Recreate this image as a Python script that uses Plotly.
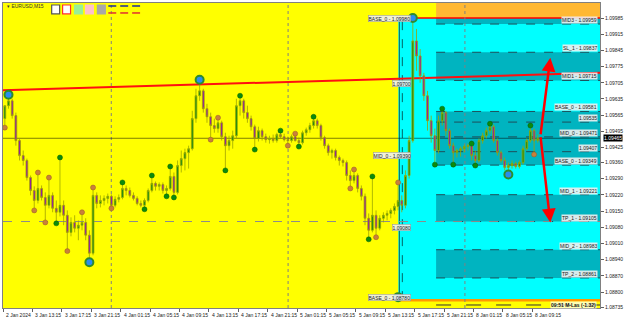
import plotly.graph_objects as go

# ---------------- data ----------------
symbol = "EURUSD,M15"
tick_labels = ["2 Jan 2024", "3 Jan 13:15", "3 Jan 17:15", "3 Jan 21:15", "4 Jan 01:15",
               "4 Jan 05:15", "4 Jan 09:15", "4 Jan 13:15", "4 Jan 17:15", "4 Jan 21:15",
               "5 Jan 01:15", "5 Jan 05:15", "5 Jan 09:15", "5 Jan 13:15", "5 Jan 17:15",
               "5 Jan 21:15", "8 Jan 01:15", "8 Jan 05:15", "8 Jan 09:15"]
price_ticks = [1.09985, 1.09915, 1.09845, 1.09775, 1.09705, 1.09635, 1.09565, 1.09495, 1.09425,
               1.09360, 1.09290, 1.09220, 1.09150, 1.09080, 1.09010, 1.08940, 1.08870, 1.08800, 1.08735]

opens = [1.09550, 1.09606, 1.09627, 1.09563, 1.09455, 1.09390, 1.09369, 1.09295, 1.09239, 1.09196,
         1.09248, 1.09209, 1.09175, 1.09218, 1.09162, 1.09145, 1.09175, 1.09132, 1.09058, 1.09101,
         1.09076, 1.09089, 1.09101, 1.09046, 1.08968, 1.09218, 1.09183, 1.09196, 1.09205, 1.09214,
         1.09175, 1.09201, 1.09209, 1.09248, 1.09239, 1.09218, 1.09205, 1.09183, 1.09175, 1.09196,
         1.09239, 1.09270, 1.09257, 1.09265, 1.09239, 1.09248, 1.09300, 1.09231, 1.09347, 1.09377,
         1.09403, 1.09420, 1.09550, 1.09649, 1.09670, 1.09593, 1.09558, 1.09520, 1.09507, 1.09532,
         1.09472, 1.09433, 1.09455, 1.09476, 1.09606, 1.09627, 1.09576, 1.09550, 1.09515, 1.09464,
         1.09498, 1.09472, 1.09459, 1.09464, 1.09455, 1.09481, 1.09472, 1.09459, 1.09455, 1.09472,
         1.09455, 1.09446, 1.09489, 1.09502, 1.09520, 1.09541, 1.09520, 1.09468, 1.09433, 1.09403,
         1.09412, 1.09382, 1.09369, 1.09360, 1.09304, 1.09282, 1.09304, 1.09248, 1.09214, 1.09119,
         1.09067, 1.09132, 1.09076, 1.09119, 1.09132, 1.09140, 1.09153, 1.09170, 1.09196, 1.09175,
         1.09304, 1.09455, 1.09886, 1.09821, 1.09735, 1.09649, 1.09541, 1.09476, 1.09412, 1.09541,
         1.09576, 1.09498, 1.09433, 1.09403, 1.09412, 1.09420, 1.09429, 1.09433, 1.09390, 1.09369,
         1.09455, 1.09476, 1.09498, 1.09515, 1.09455, 1.09403, 1.09369, 1.09339, 1.09347, 1.09356,
         1.09343, 1.09360, 1.09420, 1.09455, 1.09498, 1.09455]
highs = [1.09606, 1.09653, 1.09636, 1.09576, 1.09464, 1.09412, 1.09377, 1.09304, 1.09257, 1.09317,
         1.09261, 1.09231, 1.09295, 1.09231, 1.09196, 1.09382, 1.09196, 1.09153, 1.09123, 1.09132,
         1.09110, 1.09145, 1.09119, 1.09067, 1.09252, 1.09231, 1.09218, 1.09218, 1.09226, 1.09222,
         1.09214, 1.09222, 1.09274, 1.09261, 1.09252, 1.09231, 1.09214, 1.09196, 1.09205, 1.09248,
         1.09304, 1.09278, 1.09274, 1.09274, 1.09261, 1.09343, 1.09317, 1.09369, 1.09412, 1.09420,
         1.09433, 1.09584, 1.09679, 1.09718, 1.09679, 1.09614, 1.09576, 1.09550, 1.09554, 1.09541,
         1.09489, 1.09476, 1.09498, 1.09636, 1.09649, 1.09636, 1.09606, 1.09563, 1.09524, 1.09515,
         1.09507, 1.09485, 1.09476, 1.09481, 1.09489, 1.09498, 1.09485, 1.09472, 1.09481, 1.09485,
         1.09468, 1.09498, 1.09511, 1.09532, 1.09558, 1.09550, 1.09528, 1.09476, 1.09442, 1.09420,
         1.09420, 1.09390, 1.09377, 1.09369, 1.09326, 1.09330, 1.09313, 1.09261, 1.09226, 1.09140,
         1.09300, 1.09153, 1.09132, 1.09145, 1.09153, 1.09162, 1.09183, 1.09274, 1.09218, 1.09326,
         1.09476, 1.09985, 1.09938, 1.09851, 1.09748, 1.09670, 1.09563, 1.09507, 1.09563, 1.09593,
         1.09584, 1.09507, 1.09446, 1.09420, 1.09429, 1.09438, 1.09442, 1.09442, 1.09412, 1.09464,
         1.09489, 1.09511, 1.09528, 1.09524, 1.09464, 1.09412, 1.09382, 1.09360, 1.09369, 1.09364,
         1.09369, 1.09433, 1.09464, 1.09520, 1.09507, 1.09481]
lows = [1.09511, 1.09593, 1.09550, 1.09433, 1.09369, 1.09347, 1.09282, 1.09218, 1.09153, 1.09183,
        1.09196, 1.09101, 1.09162, 1.09145, 1.09097, 1.09127, 1.09089, 1.08977, 1.09041, 1.09058,
        1.09024, 1.09067, 1.09024, 1.08929, 1.08959, 1.09162, 1.09166, 1.09175, 1.09183, 1.09162,
        1.09166, 1.09188, 1.09201, 1.09218, 1.09209, 1.09196, 1.09175, 1.09166, 1.09158, 1.09188,
        1.09231, 1.09239, 1.09239, 1.09226, 1.09214, 1.09239, 1.09209, 1.09222, 1.09317, 1.09326,
        1.09334, 1.09412, 1.09532, 1.09627, 1.09576, 1.09532, 1.09459, 1.09489, 1.09489, 1.09455,
        1.09326, 1.09412, 1.09420, 1.09464, 1.09563, 1.09550, 1.09532, 1.09498, 1.09416, 1.09451,
        1.09455, 1.09446, 1.09442, 1.09446, 1.09446, 1.09464, 1.09451, 1.09433, 1.09446, 1.09451,
        1.09429, 1.09438, 1.09476, 1.09489, 1.09507, 1.09507, 1.09455, 1.09420, 1.09390, 1.09377,
        1.09369, 1.09347, 1.09343, 1.09282, 1.09248, 1.09270, 1.09231, 1.09196, 1.09089, 1.09028,
        1.09058, 1.09037, 1.09067, 1.09101, 1.09110, 1.09119, 1.09136, 1.09153, 1.09145, 1.09162,
        1.09291, 1.09446, 1.09757, 1.09705, 1.09627, 1.09498, 1.09446, 1.09351, 1.09399, 1.09520,
        1.09476, 1.09420, 1.09351, 1.09382, 1.09386, 1.09403, 1.09412, 1.09369, 1.09347, 1.09360,
        1.09442, 1.09464, 1.09485, 1.09446, 1.09390, 1.09360, 1.09326, 1.09308, 1.09334, 1.09334,
        1.09334, 1.09351, 1.09412, 1.09446, 1.09395, 1.09446]
closes = [1.09606, 1.09627, 1.09563, 1.09455, 1.09390, 1.09369, 1.09295, 1.09239, 1.09196, 1.09248,
          1.09209, 1.09175, 1.09218, 1.09162, 1.09145, 1.09175, 1.09132, 1.09058, 1.09101, 1.09076,
          1.09089, 1.09101, 1.09046, 1.08968, 1.09218, 1.09183, 1.09196, 1.09205, 1.09214, 1.09175,
          1.09201, 1.09209, 1.09248, 1.09239, 1.09218, 1.09205, 1.09183, 1.09175, 1.09196, 1.09239,
          1.09270, 1.09257, 1.09265, 1.09239, 1.09248, 1.09300, 1.09231, 1.09347, 1.09377, 1.09403,
          1.09420, 1.09550, 1.09649, 1.09670, 1.09593, 1.09558, 1.09520, 1.09507, 1.09532, 1.09472,
          1.09433, 1.09455, 1.09476, 1.09606, 1.09627, 1.09576, 1.09550, 1.09515, 1.09464, 1.09498,
          1.09472, 1.09459, 1.09464, 1.09455, 1.09481, 1.09472, 1.09459, 1.09455, 1.09472, 1.09455,
          1.09446, 1.09489, 1.09502, 1.09520, 1.09541, 1.09520, 1.09468, 1.09433, 1.09403, 1.09412,
          1.09382, 1.09369, 1.09360, 1.09304, 1.09282, 1.09304, 1.09248, 1.09214, 1.09119, 1.09067,
          1.09132, 1.09076, 1.09119, 1.09132, 1.09140, 1.09153, 1.09170, 1.09196, 1.09175, 1.09304,
          1.09455, 1.09886, 1.09821, 1.09735, 1.09649, 1.09541, 1.09476, 1.09412, 1.09541, 1.09576,
          1.09498, 1.09433, 1.09403, 1.09412, 1.09420, 1.09429, 1.09433, 1.09390, 1.09369, 1.09455,
          1.09476, 1.09498, 1.09515, 1.09455, 1.09403, 1.09369, 1.09339, 1.09347, 1.09356, 1.09343,
          1.09360, 1.09420, 1.09455, 1.09498, 1.09455, 1.09465]

green_idx = [14, 15, 32, 38, 40, 44, 45, 46, 60, 64, 68, 75, 80, 84, 99, 100, 117, 119, 122, 127, 128, 132, 143]
green_px = [1.09097, 1.09382, 1.09274, 1.09158, 1.09304, 1.09214, 1.09343, 1.09209, 1.09326, 1.09649,
            1.09416, 1.09498, 1.09429, 1.09558, 1.09028, 1.09300, 1.09351, 1.09593, 1.09351, 1.09442,
            1.09347, 1.09528, 1.09520]
orange_idx = [0, 8, 9, 11, 12, 17, 21, 24, 29, 56, 58, 77, 79, 94, 95, 101, 107, 144]
orange_px = [1.09511, 1.09153, 1.09317, 1.09101, 1.09295, 1.08977, 1.09145, 1.09252, 1.09162, 1.09459,
             1.09554, 1.09433, 1.09485, 1.09248, 1.09330, 1.09037, 1.09274, 1.09395]
blue_idx = [1, 23, 53, 111, 137, 107]
blue_px = [1.09653, 1.08929, 1.09718, 1.09985, 1.09308, 1.08778]

level_names = ["MID3 - 1.09959", "SL_1 - 1.09837", "MID1 - 1.09715", "BASE_0 - 1.09581", "1.09535",
               "MID_0 - 1.09471", "1.09407", "BASE_0 - 1.09349", "MID_1 - 1.09221", "TP_1 - 1.09105",
               "MID_2 - 1.08983", "TP_2 - 1.08861"]
level_values = [1.09959, 1.09837, 1.09715, 1.09581, 1.09535, 1.09471, 1.09407, 1.09349, 1.09221,
                1.09105, 1.08983, 1.08861]
band_pairs = [(1.09985, 1.09959), (1.09837, 1.09715), (1.09581, 1.09349), (1.09221, 1.09105), (1.08983, 1.08861)]
zone_top, zone_bottom = 1.09985, 1.08765
current_price = 1.09465
trend_start, trend_end = 1.09673, 1.09748
tp1_line = 1.09105

# ---------------- geometry helpers ----------------
W, H = 625, 319
ML, MR, MT, MB = 2, 22, 2, 11
PW, PH = W - ML - MR, H - MT - MB
BAR_PX = 1.85
XMAX = PW / BAR_PX
YMIN, YMAX = 1.08731, 1.10050


def bx(px):  # pixel x -> bar axis
    return (px - ML) / BAR_PX


def pp(px, py):  # pixel -> paper
    return (px - ML) / PW, (H - MB - py) / PH


xs = [2 * k + 1 for k in range(len(closes))]

fig = go.Figure()
fig.add_trace(go.Candlestick(
    x=xs, open=opens, high=highs, low=lows, close=closes,
    increasing=dict(line=dict(color="#9AA800", width=0.8), fillcolor="#138A13"),
    decreasing=dict(line=dict(color="#A0A000", width=0.8), fillcolor="#9010B8"),
    whiskerwidth=0, showlegend=False, hoverinfo="skip"))

fig.add_trace(go.Scatter(x=[2 * k + 1 for k in green_idx], y=green_px, mode="markers",
                         marker=dict(size=5, color="#0B8B0B", line=dict(color="#056005", width=0.5)),
                         showlegend=False, hoverinfo="skip"))
fig.add_trace(go.Scatter(x=[2 * k + 1 for k in orange_idx], y=orange_px, mode="markers",
                         marker=dict(size=5, color="#C8803C", line=dict(color="#9A5A20", width=0.5)),
                         showlegend=False, hoverinfo="skip"))
fig.add_trace(go.Scatter(x=[2 * k + 1 for k in blue_idx], y=blue_px, mode="markers",
                         marker=dict(size=8, color="#2A8CF0", line=dict(color="#2E8B2E", width=2)),
                         showlegend=False, hoverinfo="skip"))

shapes = []
x_zone = bx(400)
x_band = bx(438)
# cyan zone
shapes.append(dict(type="rect", x0=x_zone, x1=XMAX, y0=zone_bottom, y1=zone_top,
                   fillcolor="#00FFFF", line=dict(width=0), layer="below"))
# orange top
shapes.append(dict(type="rect", x0=x_band, x1=XMAX, y0=zone_top, y1=YMAX,
                   fillcolor="#FFB833", line=dict(width=0), layer="below"))
for a, b in band_pairs:
    shapes.append(dict(type="rect", x0=x_band, x1=XMAX, y0=b, y1=a,
                       fillcolor="#00B4C0", line=dict(width=0), layer="below"))
for v in level_values:
    shapes.append(dict(type="line", x0=x_band, x1=XMAX, y0=v, y1=v,
                       line=dict(color="#1D4F5A", width=1, dash="dash"), layer="below"))
# orange bottom strip and red top line
shapes.append(dict(type="line", x0=x_zone, x1=XMAX, y0=zone_bottom, y1=zone_bottom,
                   line=dict(color="#FF9A00", width=2.5), layer="below"))
shapes.append(dict(type="line", x0=x_zone, x1=XMAX, y0=zone_top, y1=zone_top,
                   line=dict(color="#FF0000", width=1.5), layer="below"))
# day separators
for dpx in (111, 289, 467):
    shapes.append(dict(type="line", x0=bx(dpx), x1=bx(dpx), y0=YMIN, y1=YMAX,
                       line=dict(color="#808080", width=1, dash="dot"), layer="below"))
# vertical zone lines
shapes.append(dict(type="line", x0=bx(401), x1=bx(401), y0=zone_bottom, y1=zone_top,
                   line=dict(color="rgba(0,60,60,0.8)", width=1), layer="below"))
shapes.append(dict(type="line", x0=bx(404), x1=bx(404), y0=zone_bottom, y1=zone_top,
                   line=dict(color="rgba(0,60,60,0.8)", width=1, dash="dash"), layer="below"))
# current price line
shapes.append(dict(type="line", x0=0, x1=XMAX, y0=current_price, y1=current_price,
                   line=dict(color="rgba(0,0,0,0.5)", width=1), layer="below"))
# TP_1 gray dashed line
shapes.append(dict(type="line", x0=0, x1=XMAX, y0=tp1_line, y1=tp1_line,
                   line=dict(color="#8C8C8C", width=1, dash="dash"), layer="below"))
# bottom dashed line
shapes.append(dict(type="line", x0=x_band, x1=XMAX, y0=1.08744, y1=1.08744,
                   line=dict(color="#333333", width=1, dash="longdash"), layer="below"))
# red trend line
shapes.append(dict(type="line", x0=0, x1=XMAX, y0=trend_start, y1=trend_end,
                   line=dict(color="#FF1010", width=2), layer="below"))

# toolbar icons (top-left)
icon_specs = [(51, "#FFFFFF", "#555555"), (62, "#FFFFFF", "#FF3030"), (74, "#98F098", "#98F098"),
              (85, "#FFC0CB", "#FFC0CB"), (97, "#A8A8A8", "#A8A8A8")]
for x0p, fc, lc in icon_specs:
    a0 = pp(x0p, 13)
    a1 = pp(x0p + 8, 4)
    shapes.append(dict(type="rect", xref="paper", yref="paper", x0=a0[0], y0=a0[1], x1=a1[0], y1=a1[1],
                       fillcolor=fc, line=dict(color=lc, width=1.2)))
for x0p in (108, 120, 132):
    for yp, col in ((5, "#1A2A9A"), (12, "#E03030")):
        a0 = pp(x0p, yp)
        a1 = pp(x0p + 8, yp)
        shapes.append(dict(type="line", xref="paper", yref="paper", x0=a0[0], y0=a0[1], x1=a1[0], y1=a1[1],
                           line=dict(color=col, width=1.5)))

annotations = []
small = dict(family="Liberation Sans, Arial", size=5, color="#202020")
# level labels right side
for name, v in zip(level_names, level_values):
    annotations.append(dict(x=bx(601), y=v, xref="x", yref="y", text=name, showarrow=False,
                            xanchor="right", yanchor="bottom", font=small,
                            bgcolor="rgba(240,240,240,0.9)", borderpad=0))
# left labels in zone
left_labels = [("BASE_0 - 1.09980", 1.09985), ("1.09700", 1.09700), ("MID_0 - 1.09390", 1.09390),
               ("1.09080", 1.09080), ("BASE_0 - 1.08780", 1.08778)]
for t, v in left_labels:
    annotations.append(dict(x=bx(413), y=v, xref="x", yref="y", text=t, showarrow=False,
                            xanchor="right", yanchor="middle", font=small,
                            bgcolor="rgba(240,240,240,0.9)", bordercolor="#909090", borderwidth=0.5,
                            borderpad=0))
# time labels
for j, t in enumerate(tick_labels):
    annotations.append(dict(x=16 * j, y=-0.008, xref="x", yref="paper", text=t, showarrow=False,
                            xanchor="left", yanchor="top", xshift=1, font=small))
# symbol title
tx, ty = pp(4, 5)
annotations.append(dict(x=tx, y=ty, xref="paper", yref="paper", text="▾ " + symbol, showarrow=False,
                        xanchor="left", yanchor="middle", font=dict(family="Liberation Sans", size=5, color="#333333")))
# current price label on axis
annotations.append(dict(x=1.0, y=current_price, xref="paper", yref="y", text=f"{current_price:.5f}",
                        showarrow=False, xanchor="left", yanchor="middle", xshift=3,
                        font=dict(family="Liberation Sans", size=5, color="#FFFFFF"), bgcolor="#000000",
                        borderpad=0))
# bottom-right status text
annotations.append(dict(x=bx(600), y=1.08744, xref="x", yref="y", text="<b>09:51 M-Las (-1.32)</b>",
                        showarrow=False, xanchor="right", yanchor="middle",
                        font=dict(family="Liberation Sans", size=5, color="#111111"),
                        bgcolor="rgba(255,255,255,0.7)", borderpad=0))
# red arrows
for tip in (1.09813, 1.09101):
    annotations.append(dict(x=bx(553), y=tip, ax=bx(543), ay=1.09476, xref="x", yref="y",
                            axref="x", ayref="y", text="", showarrow=True, arrowhead=2,
                            arrowsize=1.1, arrowwidth=2.5, arrowcolor="#FF0000"))

fig.update_layout(
    width=W, height=H, margin=dict(l=ML, r=MR, t=MT, b=MB),
    paper_bgcolor="#FFFFFF", plot_bgcolor="#FFFF00",
    shapes=shapes, annotations=annotations, showlegend=False,
    xaxis=dict(range=[0, XMAX], showgrid=False, zeroline=False, rangeslider=dict(visible=False),
               tickvals=[16 * j for j in range(len(tick_labels))], showticklabels=False,
               ticks="outside", ticklen=3, tickcolor="#606060", showline=True, linecolor="#808080",
               mirror=True, fixedrange=True),
    yaxis=dict(range=[YMIN, YMAX], side="right", showgrid=False, zeroline=False,
               tickvals=price_ticks, ticktext=[f"{v:.5f}" for v in price_ticks],
               ticks="outside", ticklen=3, tickcolor="#606060",
               tickfont=dict(family="Liberation Sans, Arial", size=5, color="#202020"),
               showline=True, linecolor="#808080", mirror=True, fixedrange=True),
)

fig.write_html("out.html")
